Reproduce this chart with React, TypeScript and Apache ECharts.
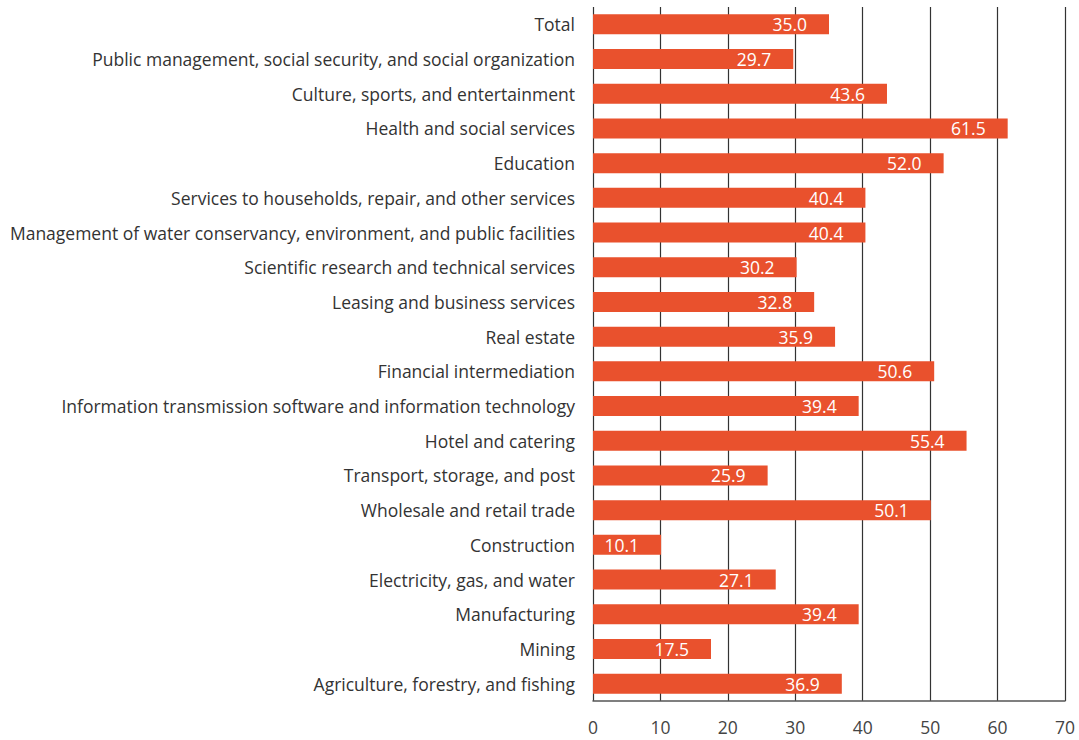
import React, { useEffect, useRef } from "react";
import * as echarts from "echarts";

const categories = [
  "Agriculture, forestry, and fishing",
  "Mining",
  "Manufacturing",
  "Electricity, gas, and water",
  "Construction",
  "Wholesale and retail trade",
  "Transport, storage, and post",
  "Hotel and catering",
  "Information transmission software and information technology",
  "Financial intermediation",
  "Real estate",
  "Leasing and business services",
  "Scientific research and technical services",
  "Management of water conservancy, environment, and public facilities",
  "Services to households, repair, and other services",
  "Education",
  "Health and social services",
  "Culture, sports, and entertainment",
  "Public management, social security, and social organization",
  "Total",
];

const values = [36.9, 17.5, 39.4, 27.1, 10.1, 50.1, 25.9, 55.4, 39.4, 50.6, 35.9, 32.8, 30.2, 40.4, 40.4, 52.0, 61.5, 43.6, 29.7, 35.0];

const xTicks = [0, 10, 20, 30, 40, 50, 60, 70];

export default function App() {
  const ref = useRef<HTMLDivElement>(null);
  useEffect(() => {
    if (!ref.current) return;
    const chart = echarts.init(ref.current, null, { renderer: "svg" });
    const font = "'Open Sans', sans-serif";
    chart.setOption({
      animation: false,
      grid: { left: 593, right: 14, top: 7, bottom: 39, containLabel: false },
      xAxis: {
        type: "value",
        min: xTicks[0],
        max: xTicks[xTicks.length - 1],
        interval: 10,
        axisLine: { show: true, lineStyle: { color: "#555", width: 1.5 } },
        axisTick: { show: false },
        splitLine: { show: true, lineStyle: { color: "#333", width: 1.2 } },
        axisLabel: { color: "#444", fontSize: 17.5, fontFamily: font, margin: 17 },
      },
      yAxis: {
        type: "category",
        data: categories,
        axisLine: { show: false },
        axisTick: { show: false },
        axisLabel: { color: "#333", fontSize: 17.5, fontFamily: font, margin: 18 },
      },
      series: [
        {
          type: "bar",
          data: values,
          barWidth: 20,
          itemStyle: { color: "#E9512D" },
          label: {
            show: true,
            position: "insideRight",
            distance: 22,
            color: "#fff",
            fontSize: 17.5,
            fontFamily: font,
            formatter: (p: any) => Number(p.value).toFixed(1),
          },
        },
      ],
    });
    return () => chart.dispose();
  }, []);
  return <div ref={ref} style={{ width: 1079, height: 740, position: "absolute", left: 0, top: 0 }} />;
}
